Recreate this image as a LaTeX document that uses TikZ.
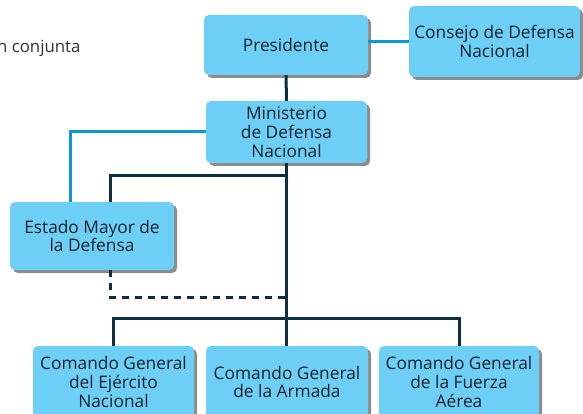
\documentclass[tikz,border=0pt]{standalone}
\usepackage{fontspec}
\setmainfont{Open Sans}
\usetikzlibrary{shadows}
\definecolor{boxfill}{HTML}{6DCFF6}
\definecolor{darkline}{HTML}{0C2D42}
\definecolor{blueline}{HTML}{0E97D5}
\definecolor{txt}{HTML}{15222B}
\definecolor{graytxt}{HTML}{333333}
\begin{document}
\begin{tikzpicture}[x=1pt,y=-1pt,
  orgbox/.style={fill=boxfill, rounded corners=5pt, text=txt, align=center,
    inner sep=0pt, font=\fontsize{17.3}{18.8}\selectfont,
    drop shadow={shadow xshift=3pt, shadow yshift=-3pt, fill=black, opacity=.45}},
  darkconn/.style={draw=darkline, line width=3pt},
  blueconn/.style={draw=blueline, line width=3pt},
  dashconn/.style={draw=darkline, line width=3pt, dash pattern=on 7pt off 6pt},
]
\useasboundingbox (0,0) rectangle (583,414);
\clip (0,0) rectangle (583,414);

\node[anchor=base east, text=graytxt, font=\fontsize{16.8}{18.5}\selectfont] (cj) at (84,53) {n conjunta};

\node[orgbox, minimum width=164pt, minimum height=60pt] (P) at (286,45) {Presidente};
\node[orgbox, minimum width=171pt, minimum height=71pt] (C) at (494.5,41.5) {Consejo de Defensa\\Nacional};
\node[orgbox, minimum width=161pt, minimum height=62pt] (M) at (286.5,132) {Ministerio\\de Defensa\\Nacional};
\node[orgbox, minimum width=164pt, minimum height=68pt] (E) at (92,236) {Estado Mayor de\\la Defensa};
\node[orgbox, minimum width=161pt, minimum height=72pt] (K1) at (113.5,382) {Comando General\\del Ejército\\Nacional};
\node[orgbox, minimum width=162pt, minimum height=72pt] (K2) at (287,382) {Comando General\\de la Armada};
\node[orgbox, minimum width=160pt, minimum height=72pt] (K3) at (459,382) {Comando General\\de la Fuerza\\Aérea};

\coordinate (bar) at (0,318);
\coordinate (branch) at (0,176);
\coordinate (dashy) at (0,297);

\draw[blueconn] (P.east |- C.west) -- (C.west);
\draw[blueconn] (M.west) -| ([xshift=-22pt]E.north);
\draw[darkconn] (P.south) -- (M.north);
\draw[darkconn] (M.south) -- (M.south |- K2.north);
\draw[darkconn] (M.south |- branch) -| ([xshift=18pt]E.north);
\draw[dashconn] ([xshift=18pt]E.south) |- (M.south |- dashy);
\draw[darkconn] (K1.north) -- (K1.north |- bar) -- (K3.north |- bar) -- (K3.north);
\end{tikzpicture}
\end{document}
